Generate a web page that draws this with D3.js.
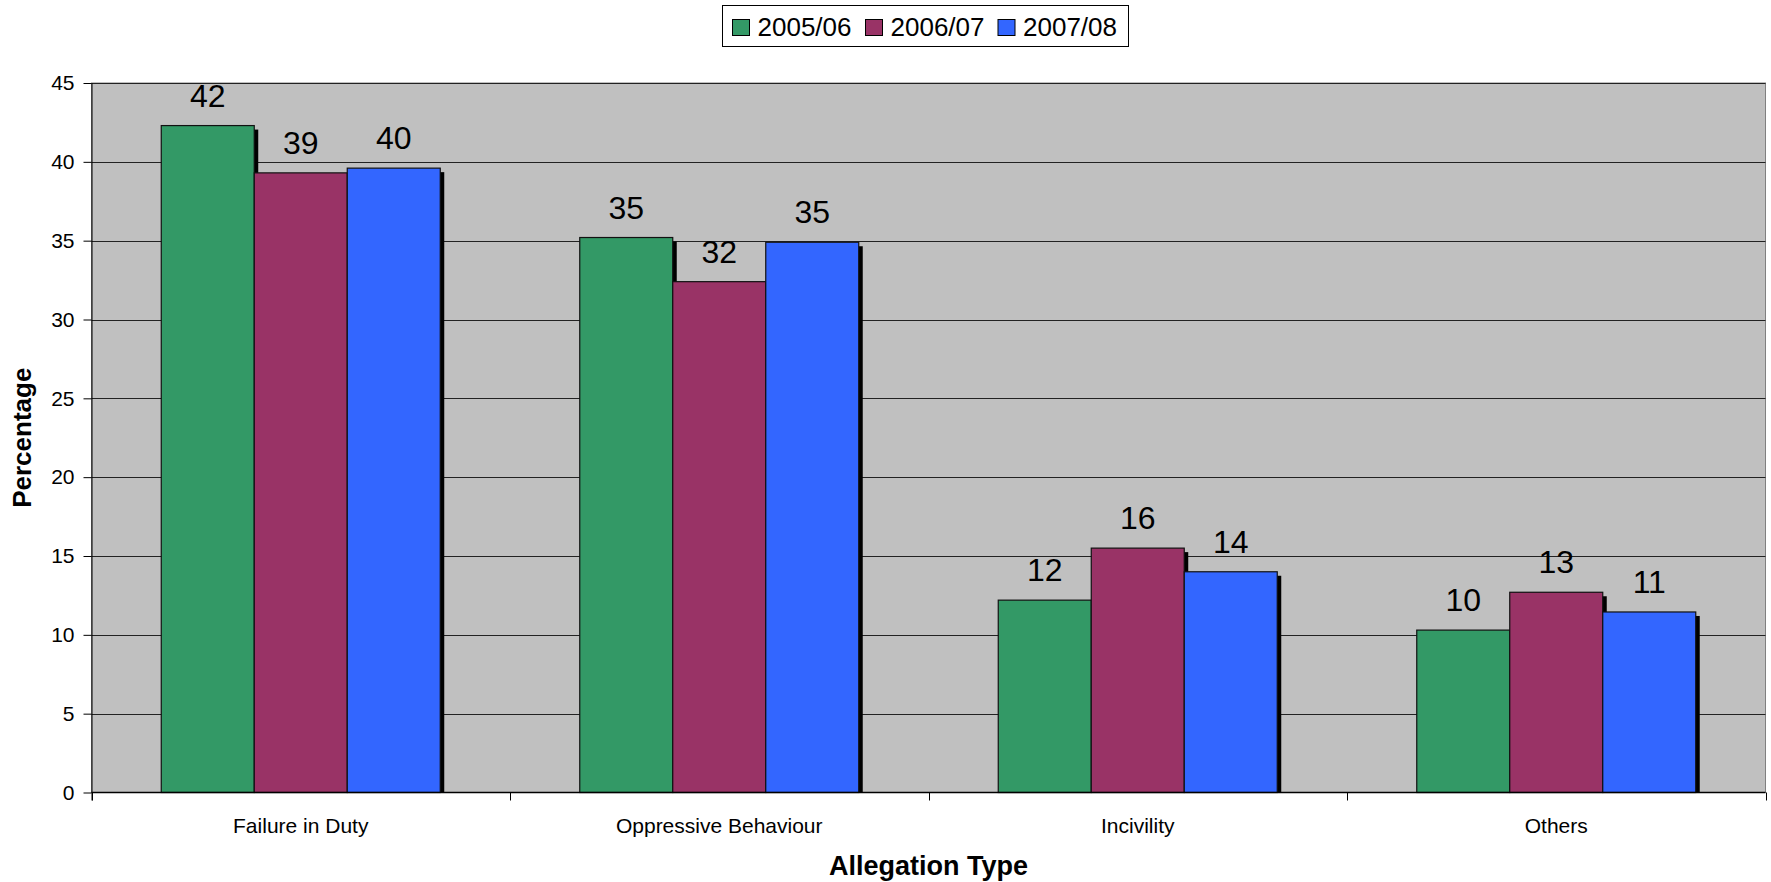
<!DOCTYPE html>
<html>
<head>
<meta charset="utf-8">
<script src="https://cdn.jsdelivr.net/npm/d3@7/dist/d3.min.js"></script>
<style>
  html, body { margin: 0; padding: 0; background: #fff; }
  svg { display: block; font-family: "Liberation Sans", Arial, sans-serif; }
</style>
</head>
<body>
<svg id="chart" width="1771" height="882"></svg>
<script>
// Allegation categories and yearly percentages
const categories = ["Failure in Duty", "Oppressive Behaviour", "Incivility", "Others"];
const seriesNames = ["2005/06", "2006/07", "2007/08"];
const values2005 = [42.3, 35.2, 12.2, 10.3];
const values2006 = [39.3, 32.4, 15.5, 12.7];
const values2007 = [39.6, 34.9, 14.0, 11.45];
const seriesColors = ["#339966", "#993366", "#3366FF"];
const yTicks = [0, 5, 10, 15, 20, 25, 30, 35, 40, 45];

const seriesValues = [values2005, values2006, values2007];

const svg = d3.select("#chart");
const plot = { left: 91.5, right: 1765.5, top: 83, bottom: 792.5 };

const x = d3.scaleBand()
  .domain(categories)
  .range([plot.left, plot.right])
  .paddingInner(0)
  .paddingOuter(0);

// bars are 1/4.5 of a category band, centred with gaps on each side
const barW = x.bandwidth() / 4.5;
const groupOffset = (x.bandwidth() - 3 * barW) / 2;

const y = d3.scaleLinear().domain([0, 45]).range([plot.bottom, plot.top]);

// plot area background
svg.append("rect")
  .attr("x", plot.left).attr("y", plot.top)
  .attr("width", plot.right - plot.left).attr("height", plot.bottom - plot.top)
  .attr("fill", "#C0C0C0")
  .attr("stroke", "#808080").attr("stroke-width", 1);

// horizontal gridlines
svg.append("g")
  .selectAll("line")
  .data(yTicks.filter(d => d > 0))
  .join("line")
  .attr("x1", plot.left).attr("x2", plot.right)
  .attr("y1", d => Math.round(y(d)) + 0.5).attr("y2", d => Math.round(y(d)) + 0.5)
  .attr("stroke", "#222").attr("stroke-width", 1);

// bars with drop shadows, drawn series by series
const shadowDx = 4, shadowDy = 4;
seriesValues.forEach((vals, si) => {
  const g = svg.append("g");
  const data = categories.map((c, ci) => ({ c, v: vals[ci] }));
  const bx = d => x(d.c) + groupOffset + si * barW;
  g.selectAll("rect.shadow")
    .data(data)
    .join("rect")
    .attr("class", "shadow")
    .attr("x", d => bx(d) + shadowDx)
    .attr("y", d => y(d.v) + shadowDy)
    .attr("width", barW)
    .attr("height", d => plot.bottom - y(d.v) - shadowDy)
    .attr("fill", "#000");
  g.selectAll("rect.bar")
    .data(data)
    .join("rect")
    .attr("class", "bar")
    .attr("x", d => bx(d))
    .attr("y", d => y(d.v))
    .attr("width", barW)
    .attr("height", d => plot.bottom - y(d.v))
    .attr("fill", seriesColors[si])
    .attr("stroke", "#111").attr("stroke-width", 1.2);
});

// value labels above bars
const fmt = d3.format(".0f");
seriesValues.forEach((vals, si) => {
  svg.append("g")
    .selectAll("text")
    .data(categories.map((c, ci) => ({ c, v: vals[ci] })))
    .join("text")
    .attr("x", d => x(d.c) + groupOffset + si * barW + barW / 2)
    .attr("y", d => y(d.v) - 19)
    .attr("text-anchor", "middle")
    .attr("font-size", 32)
    .attr("fill", "#000")
    .text(d => fmt(d.v));
});

// y axis
const yAxis = d3.axisLeft(y).tickValues(yTicks).tickSize(8).tickPadding(9).tickFormat(d3.format("d"));
const gy = svg.append("g").attr("transform", `translate(${plot.left},0)`).call(yAxis);
gy.select(".domain").attr("stroke", "#000").attr("d", `M0.5,${plot.top}V${plot.bottom + 8}`);
gy.selectAll(".tick line").attr("stroke", "#000");
gy.selectAll(".tick text").attr("font-size", 21).attr("font-family", "Liberation Sans, Arial, sans-serif").attr("fill", "#000");

// x axis: tick marks at category boundaries, labels at centres
svg.append("line")
  .attr("x1", plot.left).attr("x2", plot.right)
  .attr("y1", plot.bottom).attr("y2", plot.bottom)
  .attr("stroke", "#000").attr("stroke-width", 1.5);
const boundaries = categories.map(c => x(c)).concat([plot.right]);
svg.append("g")
  .selectAll("line")
  .data(boundaries)
  .join("line")
  .attr("x1", d => Math.round(d) + 0.5).attr("x2", d => Math.round(d) + 0.5)
  .attr("y1", plot.bottom).attr("y2", plot.bottom + 8)
  .attr("stroke", "#000");
svg.append("g")
  .selectAll("text")
  .data(categories)
  .join("text")
  .attr("x", d => x(d) + x.bandwidth() / 2)
  .attr("y", 833)
  .attr("text-anchor", "middle")
  .attr("font-size", 21)
  .attr("fill", "#000")
  .text(d => d);

// axis titles
svg.append("text")
  .attr("x", (plot.left + plot.right) / 2)
  .attr("y", 875)
  .attr("text-anchor", "middle")
  .attr("font-size", 27)
  .attr("font-weight", "bold")
  .text("Allegation Type");
svg.append("text")
  .attr("transform", `translate(31,${(plot.top + plot.bottom) / 2}) rotate(-90)`)
  .attr("text-anchor", "middle")
  .attr("font-size", 26)
  .attr("font-weight", "bold")
  .text("Percentage");

// legend
const legend = svg.append("g");
legend.append("rect")
  .attr("x", 722.5).attr("y", 5.5).attr("width", 406).attr("height", 41)
  .attr("fill", "#fff").attr("stroke", "#000").attr("stroke-width", 1);
const legendX = [732, 865, 997.5];
seriesNames.forEach((name, i) => {
  legend.append("rect")
    .attr("x", legendX[i] + 0.5).attr("y", 19.5).attr("width", 17).attr("height", 16)
    .attr("fill", seriesColors[i]).attr("stroke", "#000").attr("stroke-width", 1);
  legend.append("text")
    .attr("x", legendX[i] + 25.5).attr("y", 35.5)
    .attr("font-size", 26)
    .attr("fill", "#000")
    .text(name);
});
</script>
</body>
</html>
